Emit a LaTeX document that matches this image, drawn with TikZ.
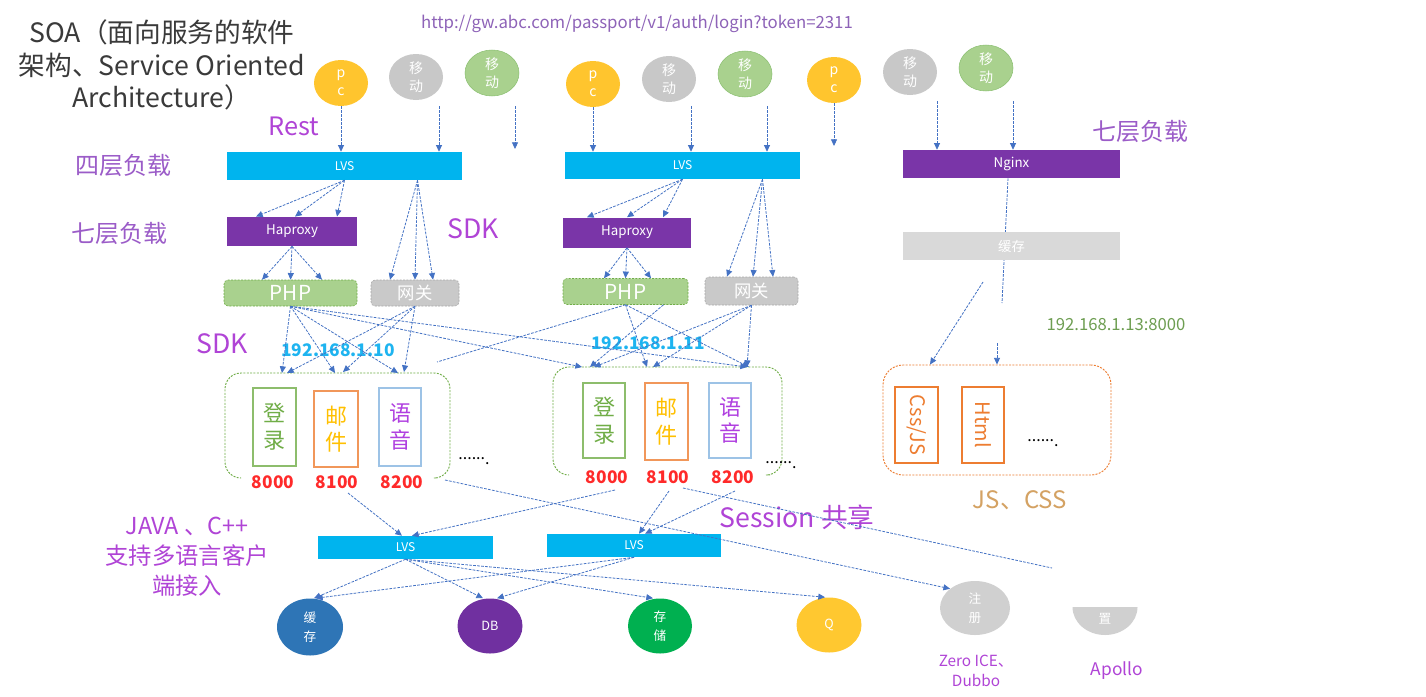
\documentclass[tikz,border=0pt]{standalone}
\usepackage{fontspec}
\setmainfont{Noto Sans CJK SC}
\usetikzlibrary{shapes.geometric,arrows.meta,calc}
\newcommand\fsz[2]{\fontsize{#1}{#2}\selectfont}
\definecolor{lvsc}{HTML}{00B4EE}
\definecolor{hapc}{HTML}{7A35A8}
\definecolor{phpf}{HTML}{A9D18E}
\definecolor{phpd}{HTML}{70AD47}
\definecolor{gwf}{HTML}{C9C9C9}
\definecolor{gwd}{HTML}{A8A8A8}
\definecolor{arr}{HTML}{4472C4}
\definecolor{lbl}{HTML}{B044D6}
\definecolor{lbl2}{HTML}{9B5CC8}
\definecolor{urlc}{HTML}{8E63B8}
\definecolor{titlec}{HTML}{3A3A3A}
\definecolor{pcy}{HTML}{FFC52E}
\definecolor{mgray}{HTML}{C8C8C8}
\definecolor{mgreen}{HTML}{A9D18E}
\definecolor{mgreend}{HTML}{8CC072}
\definecolor{ipc}{HTML}{1EB4F0}
\definecolor{portc}{HTML}{FF2A2A}
\definecolor{svgreen}{HTML}{70AD47}
\definecolor{svorange}{HTML}{ED7D31}
\definecolor{svyellow}{HTML}{FFC000}
\definecolor{svblue}{HTML}{9DC3E6}
\definecolor{svpurple}{HTML}{B040E0}
\definecolor{cachebar}{HTML}{D9D9D9}
\definecolor{ip3c}{HTML}{6E9E52}
\definecolor{jsc}{HTML}{D4A263}
\definecolor{cblue}{HTML}{2E75B6}
\definecolor{cpurple}{HTML}{7030A0}
\definecolor{cgreen}{HTML}{00B050}
\definecolor{cyellow}{HTML}{FFC830}
\definecolor{zgray}{HTML}{D0D0D0}
\begin{document}
\begin{tikzpicture}[x=0.75pt,y=-0.75pt,
  conn/.style={draw=arr, line width=0.6pt, dash pattern=on 2pt off 1pt, -{Triangle[width=4.5pt,length=5pt]}},
  plainconn/.style={draw=arr, line width=0.6pt, dash pattern=on 2pt off 1pt},
  bar/.style={rectangle, inner sep=0pt, text=white},
  client/.style={ellipse, inner sep=0pt, minimum width=40.5pt, minimum height=34.5pt, text=white, align=center, font=\fsz{10.5}{13.5}},
  svc/.style={rectangle, draw, line width=0.8pt, fill=white, inner sep=0pt, align=center, font=\fsz{16.5}{20}},
  store/.style={ellipse, inner sep=0pt, text=white, align=center, font=\fsz{9.5}{14}},
  lab/.style={text=lbl, inner sep=0pt, align=center},
  grp/.style={draw=phpd, line width=0.7pt, dash pattern=on 1.5pt off 1pt, rounded corners=12pt},
]
\useasboundingbox (0,0) rectangle (1426,696);
\fill[white] (0,0) rectangle (1426,696);

% title and url
\node[text=titlec, align=center, inner sep=0pt, font=\fsz{20}{24.5}] (title) at (162,65) {SOA（面向服务的软件\\架构、Service Oriented\\Architecture）};
\node[text=urlc, inner sep=0pt, font=\fsz{12.6}{14}] (url) at (637,24) {http://gw.abc.com/passport/v1/auth/login?token=2311};

% clients
\node[client, fill=pcy] (pc1) at (341,83) {p\\c};
\node[client, fill=mgray] (m1) at (416,77) {移\\动};
\node[client, fill=mgreen, draw=mgreend] (g1) at (492,73) {移\\动};
\node[client, fill=pcy] (pc2) at (593,84) {p\\c};
\node[client, fill=mgray] (m2) at (669,79) {移\\动};
\node[client, fill=mgreen, draw=mgreend] (g2) at (745,74) {移\\动};
\node[client, fill=pcy] (pc3) at (834,80) {p\\c};
\node[client, fill=mgray] (m3) at (910,72) {移\\动};
\node[client, fill=mgreen, draw=mgreend] (g3) at (986,68) {移\\动};

% load balancers
\node[bar, fill=lvsc, minimum width=176.25pt, minimum height=21pt, font=\fsz{9}{10}] (lvs1) at (344.5,166) {LVS};
\node[bar, fill=lvsc, minimum width=176.25pt, minimum height=20.25pt, font=\fsz{9}{10}] (lvs2) at (682.5,165.5) {LVS};
\node[bar, fill=hapc, minimum width=162.75pt, minimum height=21pt, font=\fsz{10}{11}] (ngx) at (1011.5,164) {Nginx};
\node[bar, fill=hapc, minimum width=97.5pt, minimum height=22pt, font=\fsz{10}{11}] (hap1) at (292,231.5) {Haproxy};
\node[bar, fill=hapc, minimum width=96pt, minimum height=22.5pt, font=\fsz{10}{11}] (hap2) at (627,232.5) {Haproxy};
\node[bar, fill=phpf, draw=phpd, dash pattern=on 1.5pt off 1pt, rounded corners=3pt, minimum width=99.75pt, minimum height=19.5pt, font=\fsz{15.5}{17}] (php1) at (290.5,293) {PHP};
\node[bar, fill=gwf, draw=gwd, dash pattern=on 1.5pt off 1pt, rounded corners=3pt, minimum width=66pt, minimum height=19.5pt, font=\fsz{13}{15}] (gw1) at (415,293) {网关};
\node[bar, fill=phpf, draw=phpd, dash pattern=on 1.5pt off 1pt, rounded corners=3pt, minimum width=93.75pt, minimum height=19.5pt, font=\fsz{15.5}{17}] (php2) at (625.5,291.5) {PHP};
\node[bar, fill=gwf, draw=gwd, dash pattern=on 1.5pt off 1pt, rounded corners=3pt, minimum width=69.75pt, minimum height=21pt, font=\fsz{13}{15}] (gw2) at (751.5,291) {网关};

% labels
\node[lab, font=\fsz{19}{22}] (rest) at (294,126) {Rest};
\node[lab, text=lbl2, font=\fsz{18}{20}] (l4a) at (123,165) {四层负载};
\node[lab, text=lbl2, font=\fsz{18}{20}] (l7a) at (119,233) {七层负载};
\node[lab, text=lbl2, font=\fsz{18}{20}] (l7b) at (1140,131) {七层负载};
\node[lab, font=\fsz{20}{22}] (sdk1) at (473,229) {SDK};
\node[lab, font=\fsz{20}{22}] (sdk2) at (222,344) {SDK};
\node[text=ipc, inner sep=0pt, font=\bfseries\fsz{13}{15}] (ip1) at (338,350) {192.168.1.10};
\node[text=ipc, inner sep=0pt, font=\bfseries\fsz{13}{15}] (ip2) at (648,343) {192.168.1.11};

% service groups
\draw[grp] (240,478) -- (225,478) -- (225,373) -- (450,373) -- (450,478) -- (437,478);
\draw[grp] (568,475) -- (553,475) -- (553,367) -- (782,367) -- (782,475) -- (770,475);
\node[svc, draw=svgreen!80, text=svgreen, minimum width=32.25pt, minimum height=58.5pt] (dl1) at (274.5,427) {登\\录};
\node[svc, draw=svorange!80, text=svyellow, minimum width=33pt, minimum height=57pt] (yj1) at (336,429) {邮\\件};
\node[svc, draw=svblue, text=svpurple, minimum width=31.5pt, minimum height=58.5pt] (yy1) at (400,427) {语\\音};
\node[svc, draw=svgreen!80, text=svgreen, minimum width=31.5pt, minimum height=56.25pt] (dl2) at (604,420.5) {登\\录};
\node[svc, draw=svorange!80, text=svyellow, minimum width=32.25pt, minimum height=57.75pt] (yj2) at (666.5,421.5) {邮\\件};
\node[svc, draw=svblue, text=svpurple, minimum width=31.5pt, minimum height=56.25pt] (yy2) at (730,420.5) {语\\音};
\node[text=portc, inner sep=0pt, font=\bfseries\fsz{13}{15}] (p1a) at (273,482) {8000};
\node[text=portc, inner sep=0pt, font=\bfseries\fsz{13}{15}] (p1b) at (337,482) {8100};
\node[text=portc, inner sep=0pt, font=\bfseries\fsz{13}{15}] (p1c) at (402,482) {8200};
\node[text=portc, inner sep=0pt, font=\bfseries\fsz{13}{15}] (p2a) at (607,477) {8000};
\node[text=portc, inner sep=0pt, font=\bfseries\fsz{13}{15}] (p2b) at (668,477) {8100};
\node[text=portc, inner sep=0pt, font=\bfseries\fsz{13}{15}] (p2c) at (733,477) {8200};
\node[inner sep=0pt, font=\fsz{12}{14}] (dots1) at (474,461) {......\raisebox{-4pt}{.}};
\node[inner sep=0pt, font=\fsz{12}{14}] (dots2) at (781,465) {......\raisebox{-4pt}{.}};

% right side
\coordinate (nge) at (1002,303);
\draw[plainconn] ([shift={(-3.5,0)}]ngx.south) -- (nge);
\node[bar, fill=cachebar, minimum width=162.75pt, minimum height=21pt, font=\fsz{10}{11}] (cache) at (1011.5,246) {缓存};
\node[text=ip3c, inner sep=0pt, font=\fsz{12.5}{14}] (ip3) at (1116,325) {192.168.1.13:8000};
\node[draw=svorange, line width=0.7pt, dash pattern=on 1.5pt off 1pt, rounded corners=15pt, minimum width=171pt, minimum height=82.5pt] (ob) at (997,420) {};
\node[svc, draw=svorange, text=svorange, rotate=-90, minimum width=57pt, minimum height=32.25pt, font=\fsz{15}{17}] (css) at (916.5,425) {Css/JS};
\node[svc, draw=svorange, text=svorange, rotate=-90, minimum width=57pt, minimum height=31.5pt, font=\fsz{15}{17}] (html) at (983,425) {Html};
\node[inner sep=0pt, font=\fsz{12}{14}] (dots3) at (1043,443) {......\raisebox{-4pt}{.}};
\node[text=jsc, inner sep=0pt, font=\fsz{18}{20}] (jscss) at (1020,500) {JS、CSS};

% lower layer
\node[bar, fill=lvsc, minimum width=131.25pt, minimum height=17.25pt, font=\fsz{9}{10}] (lvs3) at (405.5,547.5) {LVS};
\node[bar, fill=lvsc, minimum width=130.5pt, minimum height=17.25pt, font=\fsz{9}{10}] (lvs4) at (634,545.5) {LVS};
\node[lab, font=\fsz{17.5}{22.5}] (java) at (187,557) {JAVA 、C++\\支持多语言客户\\端接入};
\node[lab, font=\fsz{20}{22}] (sess) at (797,517) {Session 共享};

\node[store, fill=cblue, minimum width=49.5pt, minimum height=42.75pt] (hc) at (310,627) {缓\\存};
\node[store, fill=cpurple, minimum width=48.75pt, minimum height=41.25pt] (db) at (490,626) {DB};
\node[store, fill=cgreen, minimum width=48pt, minimum height=41.25pt] (cc) at (660,626) {存\\储};
\node[store, fill=cyellow, minimum width=48.75pt, minimum height=41.25pt] (qc) at (829,625) {Q};
\node[store, fill=zgray, minimum width=52.5pt, minimum height=40.5pt] (zc) at (975,608) {注\\册};
\begin{scope}
\clip (1060,607) rectangle (1150,645);
\node[store, fill=zgray, minimum width=48.75pt, minimum height=42pt] (pz) at (1105,607) {};
\end{scope}
\node[text=white, inner sep=0pt, font=\fsz{9.5}{11}] (pzt) at (1105,619) {置};
\node[lab, font=\fsz{11.5}{15}] (zero) at (976,671) {Zero ICE、\\Dubbo};
\node[lab, font=\fsz{13}{15}] (apollo) at (1117,671) {Apollo};

% ---------- connectors ----------
% top row
\draw[conn] (pc1.south) -- (pc1.south |- lvs1.north);
\coordinate (m1s) at (439,106); \draw[conn] (m1s) -- (m1s |- lvs1.north);
\coordinate (g1s) at (515,106); \coordinate (g1e) at (515,149); \draw[conn] (g1s) -- (g1e);
\draw[conn] (pc2.south) -- (pc2.south |- lvs2.north);
\coordinate (m2s) at (691,106); \draw[conn] (m2s) -- (m2s |- lvs2.north);
\coordinate (g2s) at (767,106); \draw[conn] (g2s) -- (g2s |- lvs2.north);
\coordinate (pc3e) at (834,146); \draw[conn] (pc3.south) -- (pc3e);
\coordinate (m3s) at (937,101); \draw[conn] (m3s) -- (m3s |- ngx.north);
\coordinate (g3s) at (1013,101); \draw[conn] (g3s) -- (g3s |- ngx.north);

% LVS -> Haproxy / gateway
\foreach \dx in {-36,3,45} \draw[conn] (lvs1.south) -- ([shift={(\dx,0)}]hap1.north);
\foreach \dx in {-25,0,18} \draw[conn] ([shift={(73,0)}]lvs1.south) -- ([shift={(\dx,0)}]gw1.north);
\foreach \dx in {-40,0,36} \draw[conn] (lvs2.south) -- ([shift={(\dx,0)}]hap2.north);
\foreach \dx in {-24.5,1.5,21.5} \draw[conn] ([shift={(80,0)}]lvs2.south) -- ([shift={(\dx,0)}]gw2.north);
\foreach \dx in {-28.5,0,31.5} \draw[conn] (hap1.south) -- ([shift={(\dx,0)}]php1.north);
\foreach \dx in {-21.5,0,25.5} \draw[conn] (hap2.south) -- ([shift={(\dx,0)}]php2.north);

% into service groups
\coordinate (t1a) at (282,373); \coordinate (t1a2) at (287,373);
\coordinate (t1b) at (335,373); \coordinate (t1b2) at (343,372);
\coordinate (t1c) at (398,373); \coordinate (t1c2) at (404,372);
\coordinate (t2a) at (582,367); \coordinate (t2a2) at (590,367);
\coordinate (t2b) at (647,367); \coordinate (t2b2) at (653,367);
\coordinate (t2c) at (747,367); \coordinate (t2c2) at (749,367);
\draw[conn] (php1.south) -- (t1a);
\draw[conn] (php1.south) -- (t1b);
\draw[conn] (php1.south) -- (t1c);
\draw[conn] (php1.south) -- (t2a);
\draw[conn] (php1.south) -- (t2c);
\draw[conn] (gw1.south) -- (t1a2);
\draw[conn] (gw1.south) -- (t1b2);
\draw[conn] (gw1.south) -- (t1c2);
\draw[conn] ([shift={(38,0)}]php2.south) -- (t2a2);
\draw[conn] (php2.south) -- (t2b);
\draw[conn] (php2.south) -- (t2c2);
\coordinate (e7) at (437,362); \draw[plainconn] (php2.south) -- (e7);
\draw[conn] (gw2.south) -- ([shift={(4,0)}]t2a2);
\draw[conn] (gw2.south) -- (t2b2);
\draw[conn] (gw2.south) -- (t2c);

% right side
\coordinate (cs1) at (983,282); \draw[conn] (cs1) -- ([shift={(-67,0)}]ob.north);
\coordinate (cs2) at (997,343); \draw[conn] (cs2) -- (ob.north);

% to lower LVS
\coordinate (s1) at (348,493); \draw[conn] (s1) -- ([shift={(-3.5,0)}]lvs3.north);
\coordinate (s2) at (615,490); \draw[conn] (s2) -- ([shift={(6.5,0)}]lvs3.north);
\coordinate (s3) at (669,491); \draw[conn] (s3) -- ([shift={(5,0)}]lvs4.north);
\coordinate (s4) at (735,491); \draw[conn] (s4) -- ([shift={(11,0)}]lvs4.north);
\coordinate (s5) at (445,480); \draw[conn] (s5) -- (zc.north west);
\coordinate (s6) at (683,488); \coordinate (e6) at (1052,568); \draw[plainconn] (s6) -- (e6);

% LVS -> storage
\draw[conn] (lvs3.south) -- ([shift={(4,0)}]hc.north);
\draw[conn] (lvs3.south) -- ([shift={(-7,0)}]db.north);
\draw[conn] (lvs3.south) -- ([shift={(-7,0)}]cc.north);
\draw[conn] (lvs3.south) -- ([shift={(-4,0)}]qc.north);
\draw[conn] (lvs4.south) -- ([shift={(6,0)}]hc.north);
\draw[conn] (lvs4.south) -- ([shift={(7,0)}]db.north);
\end{tikzpicture}
\end{document}
